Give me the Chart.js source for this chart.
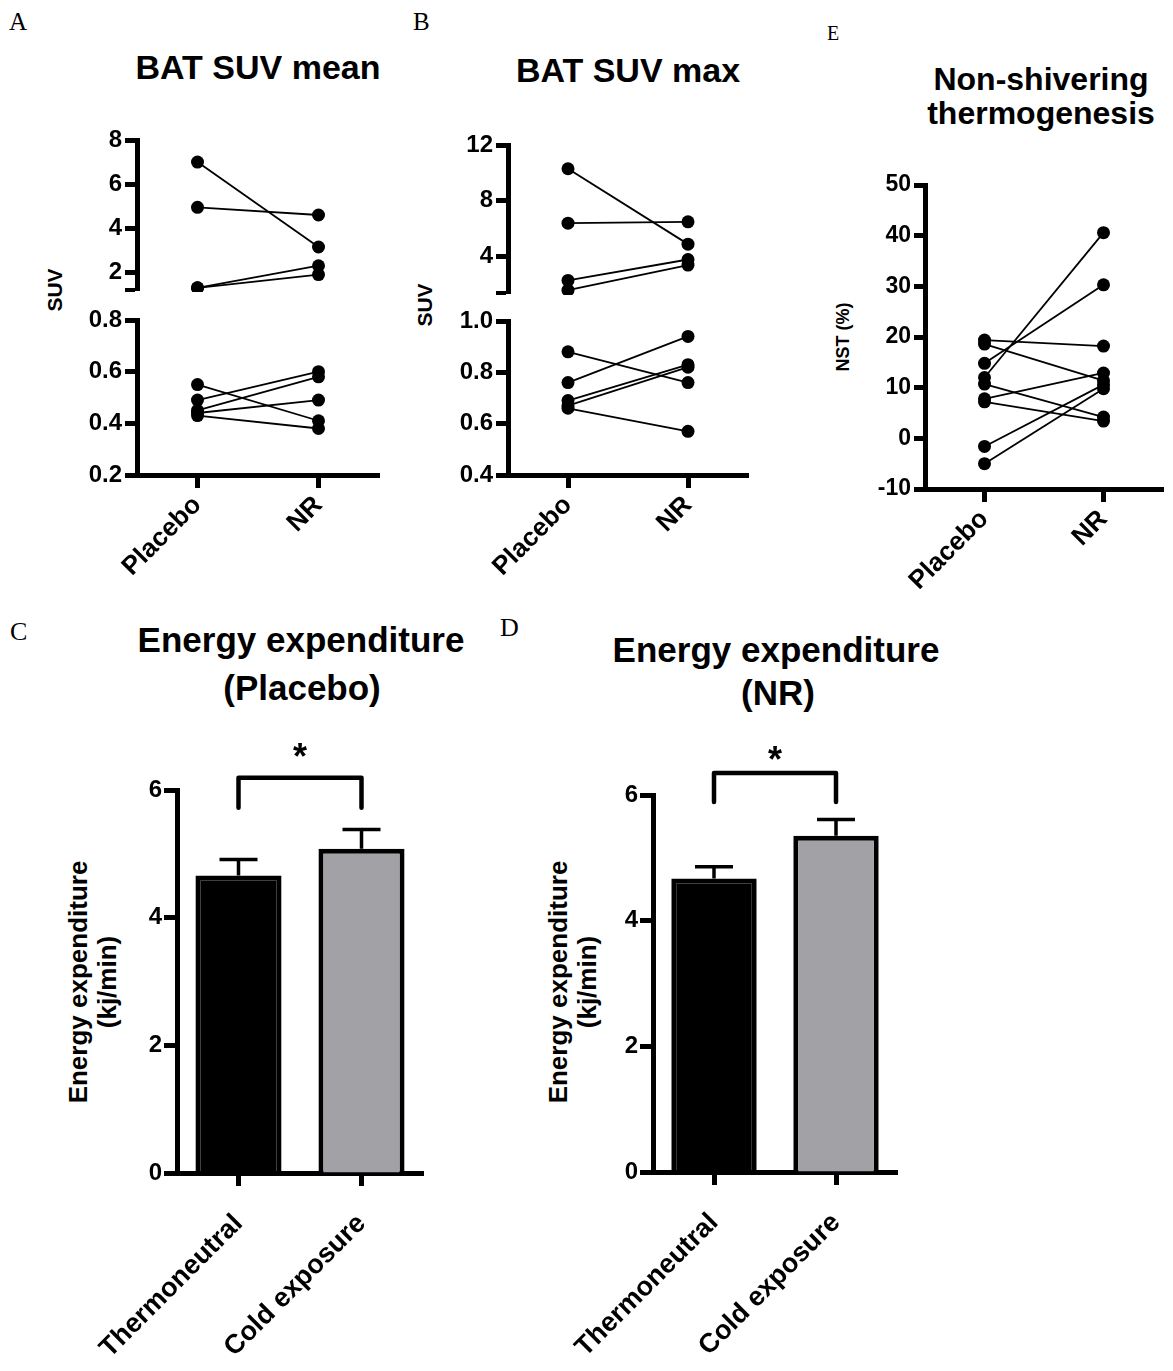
<!DOCTYPE html>
<html>
<head>
<meta charset="utf-8">
<script src="https://cdn.jsdelivr.net/npm/chart.js@4"></script>
<style>
body { margin: 0; background: #fff; }
#page { position: relative; width: 1173px; height: 1371px; overflow: hidden; font-family: 'Liberation Sans', Arial, sans-serif; color: #000; }
canvas { position: absolute; }
.t { position: absolute; white-space: nowrap; line-height: 1; font-weight: bold; transform: translateX(-50%); }
.letter { position: absolute; font-family: 'Liberation Serif', 'Times New Roman', serif; line-height: 1; }
.rot { position: absolute; white-space: nowrap; font-weight: bold; text-align: center; transform: translate(-50%, -50%) rotate(-90deg); }
</style>
</head>
<body>
<div id="page">
  <div class="letter" style="left:9px;top:9px;font-size:25px">A</div>
  <div class="letter" style="left:413px;top:9px;font-size:25px">B</div>
  <div class="letter" style="left:827px;top:23px;font-size:20px">E</div>
  <div class="letter" style="left:10px;top:619px;font-size:26px">C</div>
  <div class="letter" style="left:500px;top:615px;font-size:26px">D</div>

  <div class="t" style="left:258px;top:50px;font-size:34px">BAT SUV mean</div>
  <div class="t" style="left:628px;top:53px;font-size:34px">BAT SUV max</div>
  <div class="t" style="left:1041px;top:63px;font-size:32px">Non-shivering</div>
  <div class="t" style="left:1041px;top:97px;font-size:32px">thermogenesis</div>
  <div class="t" style="left:301px;top:622px;font-size:35px">Energy expenditure</div>
  <div class="t" style="left:302px;top:670px;font-size:35px">(Placebo)</div>
  <div class="t" style="left:776px;top:632px;font-size:35px">Energy expenditure</div>
  <div class="t" style="left:778px;top:675px;font-size:35px">(NR)</div>

  <div class="rot" style="left:55px;top:290px;font-size:21px">SUV</div>
  <div class="rot" style="left:425px;top:305px;font-size:21px">SUV</div>
  <div class="rot" style="left:843px;top:337px;font-size:18px">NST (%)</div>
  <div class="rot" style="left:93px;top:982px;font-size:26px;line-height:29px">Energy expenditure<br>(kj/min)</div>
  <div class="rot" style="left:573px;top:982px;font-size:26px;line-height:29px">Energy expenditure<br>(kj/min)</div>
</div>
<script>
// groups / categories
var groups = ['Placebo', 'NR'];
var conditions = ['Thermoneutral', 'Cold exposure'];

// A - BAT SUV mean, upper and lower part of the broken axis (paired subjects)
var suvMeanHiPlacebo = [7.0, 4.95, 1.3, 1.3];
var suvMeanHiNR = [3.15, 4.6, 2.3, 1.9];
var suvMeanLoPlacebo = [0.55, 0.49, 0.45, 0.44, 0.43];
var suvMeanLoNR = [0.41, 0.60, 0.58, 0.49, 0.38];

// B - BAT SUV max
var suvMaxHiPlacebo = [10.3, 6.4, 2.3, 1.6];
var suvMaxHiNR = [4.9, 6.5, 3.8, 3.4];
var suvMaxLoPlacebo = [0.88, 0.76, 0.69, 0.67, 0.66];
var suvMaxLoNR = [0.76, 0.94, 0.83, 0.82, 0.57];

// E - non-shivering thermogenesis (%)
var nstPlacebo = [12.0, 14.8, 19.4, 18.6, 10.7, 7.8, 7.2, -1.6, -5.0];
var nstNR = [40.6, 30.3, 18.2, 11.4, 4.2, 12.9, 3.4, 10.6, 9.8];

// C / D - energy expenditure (kj/min), mean and error
var eePlacebo = [4.66, 5.08];
var eePlaceboErr = [0.25, 0.30];
var eeNR = [4.67, 5.35];
var eeNRErr = [0.19, 0.26];

// tick values (first value of an upper segment is the axis break, no label)
var suvMeanHiTicks = [1.2, 2, 4, 6, 8];
var suvMeanLoTicks = [0.2, 0.4, 0.6, 0.8];
var suvMaxHiTicks = [1.4, 4, 8, 12];
var suvMaxLoTicks = [0.4, 0.6, 0.8, 1.0];
var nstTicks = [-10, 0, 10, 20, 30, 40, 50];
var eeTicks = [0, 2, 4, 6];

Chart.defaults.font.family = "'Liberation Sans', Arial, sans-serif";
Chart.defaults.color = '#000';

function noPad(s) {
  s.paddingLeft = 0; s.paddingRight = 0; s.paddingTop = 0; s.paddingBottom = 0;
}

function place(left, top, w, h) {
  var c = document.createElement('canvas');
  c.width = w; c.height = h;
  c.style.left = left + 'px'; c.style.top = top + 'px';
  document.getElementById('page').appendChild(c);
  return c;
}

function yAxis(tickVals, fmt, size, tickLen, pad, yW) {
  return {
    type: 'linear',
    min: tickVals[0],
    max: tickVals[tickVals.length - 1],
    afterBuildTicks: function (s) { s.ticks = tickVals.map(function (v) { return { value: v }; }); },
    afterFit: function (s) { s.width = yW; noPad(s); },
    border: { display: true, color: '#000', width: 5 },
    grid: { display: true, drawOnChartArea: false, drawTicks: true, tickLength: tickLen, tickWidth: 5, tickColor: '#000' },
    ticks: { color: '#000', padding: pad, font: { size: size, weight: 'bold' }, callback: function (v) { return fmt(v); } }
  };
}

function xAxis(show, height, size, pad) {
  return {
    type: 'category',
    offset: true,
    display: show,
    afterFit: function (s) { s.height = show ? height : 0; noPad(s); },
    border: { display: true, color: '#000', width: 5 },
    grid: { display: true, offset: false, drawOnChartArea: false, drawTicks: true, tickLength: 13, tickWidth: 5, tickColor: '#000' },
    ticks: { color: '#000', autoSkip: false, minRotation: 45, maxRotation: 45, padding: pad, font: { size: size, weight: 'bold' } }
  };
}

// chart area starts at left + 60
function pairChart(left, top, padTop, areaW, areaH, xH, pl, nr, y) {
  var c = place(left, top, 60 + areaW + 12, padTop + areaH + xH + 2);
  var sets = pl.map(function (v, i) {
    return {
      data: [v, nr[i]],
      borderColor: '#000', borderWidth: 1.8,
      pointRadius: 6.5, pointBackgroundColor: '#000', pointBorderColor: '#000', pointBorderWidth: 0,
      clip: false, tension: 0, fill: false
    };
  });
  return new Chart(c, {
    type: 'line',
    data: { labels: groups, datasets: sets },
    options: {
      responsive: false, animation: false, events: [],
      layout: { autoPadding: false, padding: { top: padTop, right: 12, bottom: 2, left: 0 } },
      plugins: { legend: { display: false }, tooltip: { enabled: false } },
      scales: { x: xAxis(xH > 0, xH, 26, 2), y: y }
    }
  });
}

// error bars + significance bracket
var errBars = {
  id: 'errBars',
  afterDatasetsDraw: function (chart, args, opts) {
    var ctx = chart.ctx, y = chart.scales.y, meta = chart.getDatasetMeta(0);
    var vals = chart.data.datasets[0].data;
    ctx.save();
    ctx.strokeStyle = '#000';
    ctx.lineWidth = 3.5;
    meta.data.forEach(function (bar, i) {
      var top = y.getPixelForValue(vals[i] + opts.err[i]);
      ctx.beginPath();
      ctx.moveTo(bar.x, bar.y);
      ctx.lineTo(bar.x, top);
      ctx.moveTo(bar.x - 19, top);
      ctx.lineTo(bar.x + 19, top);
      ctx.stroke();
    });
    var x0 = meta.data[0].x, x1 = meta.data[1].x;
    var yb = y.getPixelForValue(opts.bracketTop), yf = y.getPixelForValue(opts.bracketFoot);
    ctx.lineWidth = 4.5;
    ctx.lineJoin = 'round';
    ctx.lineCap = 'round';
    ctx.beginPath();
    ctx.moveTo(x0, yf); ctx.lineTo(x0, yb); ctx.lineTo(x1, yb); ctx.lineTo(x1, yf);
    ctx.stroke();
    ctx.fillStyle = '#000';
    ctx.font = "bold 36px 'Liberation Sans', Arial, sans-serif";
    ctx.textAlign = 'center';
    ctx.textBaseline = 'alphabetic';
    ctx.fillText('*', (x0 + x1) / 2, y.getPixelForValue(opts.star) + 20);
    ctx.restore();
  }
};

// chart area starts at left + 100
function barChart(left, top, padTop, areaW, areaH, xH, vals, err, sig) {
  var c = place(left, top, 100 + areaW + 12, padTop + areaH + xH + 2);
  return new Chart(c, {
    type: 'bar',
    data: {
      labels: conditions,
      datasets: [{
        data: vals,
        backgroundColor: ['#000', '#a2a1a6'],
        borderColor: '#000', borderWidth: 5,
        categoryPercentage: 1, barPercentage: 0.7
      }]
    },
    options: {
      responsive: false, animation: false, events: [],
      layout: { autoPadding: false, padding: { top: padTop, right: 12, bottom: 2, left: 0 } },
      plugins: {
        legend: { display: false }, tooltip: { enabled: false },
        errBars: { err: err, bracketTop: sig[0], bracketFoot: sig[1], star: sig[2] }
      },
      scales: {
        x: xAxis(true, xH, 27, 22),
        y: yAxis(eeTicks, String, 24, 13, 2, 100)
      }
    },
    plugins: [errBars]
  });
}

function brk(b) { return function (v) { return v === b ? '' : String(v); }; }
function dec1(v) { return v.toFixed(1); }

// A
pairChart(77, 120, 20, 242, 150, 0, suvMeanHiPlacebo, suvMeanHiNR, yAxis(suvMeanHiTicks, brk(1.2), 24, 12, 3, 60));
pairChart(77, 300, 20, 242, 155, 100, suvMeanLoPlacebo, suvMeanLoNR, yAxis(suvMeanLoTicks, dec1, 24, 12, 3, 60));
// B
pairChart(448, 125, 20, 240, 148, 0, suvMaxHiPlacebo, suvMaxHiNR, yAxis(suvMaxHiTicks, brk(1.4), 24, 12, 3, 60));
pairChart(448, 301, 20, 240, 154, 100, suvMaxLoPlacebo, suvMaxLoNR, yAxis(suvMaxLoTicks, dec1, 24, 12, 3, 60));
// E
pairChart(865, 165, 20, 238, 304, 100, nstPlacebo, nstNR, yAxis(nstTicks, String, 23, 11, 3, 60));
// C, D
barChart(77, 720, 70, 246, 383, 190, eePlacebo, eePlaceboErr, [6.19, 5.72, 6.65]);
barChart(553, 725, 70, 244, 377, 190, eeNR, eeNRErr, [6.35, 5.89, 6.69]);
</script>
</body>
</html>
